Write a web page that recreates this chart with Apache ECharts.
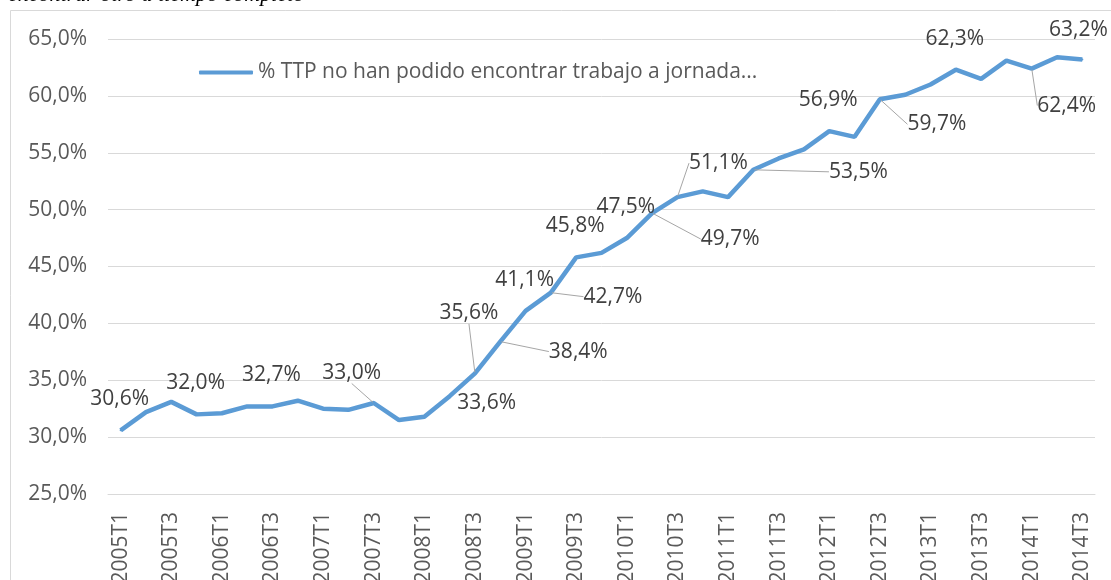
<!DOCTYPE html>
<html>
<head>
<meta charset="utf-8">
<script src="https://cdn.jsdelivr.net/npm/echarts@6/dist/echarts.min.js"></script>
<style>
  html, body { margin: 0; padding: 0; background: #fff; }
  #chart { width: 1111px; height: 580px; }
</style>
</head>
<body>
<div id="chart"></div>
<script>
// quarters 2005T1 .. 2014T3
const quarters = [
    '2005T1', '2005T2', '2005T3', '2005T4',
    '2006T1', '2006T2', '2006T3', '2006T4',
    '2007T1', '2007T2', '2007T3', '2007T4',
    '2008T1', '2008T2', '2008T3', '2008T4',
    '2009T1', '2009T2', '2009T3', '2009T4',
    '2010T1', '2010T2', '2010T3', '2010T4',
    '2011T1', '2011T2', '2011T3', '2011T4',
    '2012T1', '2012T2', '2012T3', '2012T4',
    '2013T1', '2013T2', '2013T3', '2013T4',
    '2014T1', '2014T2', '2014T3'
];

// % TTP no han podido encontrar trabajo a jornada completa
const ttpValues = [
    30.6, 32.2, 33.1, 32.0,
    32.1, 32.7, 32.7, 33.2,
    32.5, 32.4, 33.0, 31.5,
    31.8, 33.6, 35.6, 38.4,
    41.1, 42.7, 45.8, 46.2,
    47.5, 49.7, 51.1, 51.6,
    51.1, 53.5, 54.5, 55.3,
    56.9, 56.4, 59.7, 60.1,
    61.0, 62.3, 61.5, 63.1,
    62.4, 63.4, 63.2
];

// points that carry a value label
const labelledIdx = [0, 3, 6, 10, 13, 14, 15, 16, 17, 18, 20, 21, 22, 25, 28, 30, 33, 36, 38];

const yTicks = [25, 30, 35, 40, 45, 50, 55, 60, 65];

// label placement (offset from point) and whether a leader line is drawn
const labelShift = {
    10: [-22, -30, true],
    13: [37, 7, false],
    14: [-6, -60, true],
    15: [78, 10, true],
    17: [62, 4, true],
    21: [78, 26, true],
    22: [41, -34, true],
    25: [105, 2, true],
    30: [57, 25, true],
    36: [35, 37, true],
    38: [-4, -29, false]
};

const fmt = v => v.toFixed(1).replace('.', ',') + '%';
const txtFont = '"Open Sans", "Noto Sans", sans-serif';

let chartElem = document.getElementById('chart');
let chart = echarts.init(chartElem);

let seriesData = ttpValues.map((v, i) => {
    if (labelledIdx.indexOf(i) < 0) return v;
    let s = labelShift[i];
    return {
        value: v,
        label: { show: true },
        labelLine: { show: !!(s && s[2]) }
    };
});

chart.setOption({
    animation: false,
    backgroundColor: '#fff',
    graphic: [{
        type: 'rect',
        shape: { x: 10.5, y: 10.5, width: 1120, height: 600 },
        style: { fill: 'none', stroke: '#d9d9d9', lineWidth: 1 },
        silent: true
    }, {
        type: 'text',
        left: 8,
        top: -16,
        style: {
            text: 'encontrar otro a tiempo completo',
            font: 'italic 22px "Liberation Serif", serif',
            fill: '#000'
        },
        silent: true
    }],
    legend: {
        left: 194,
        top: 57,
        itemWidth: 54,
        itemHeight: 4,
        itemGap: 4,
        icon: 'roundRect',
        textStyle: { fontSize: 21, color: '#595959', fontFamily: txtFont },
        data: ['% TTP no han podido encontrar trabajo a jornada...']
    },
    grid: {
        left: 108,
        right: 16,
        top: 39,
        bottom: 86,
        containLabel: false,
        outerBoundsMode: 'none'
    },
    xAxis: {
        type: 'category',
        data: quarters,
        boundaryGap: true,
        axisLine: { show: true, lineStyle: { color: '#d9d9d9' } },
        axisTick: { show: false },
        axisLabel: {
            interval: 1,
            rotate: 90,
            margin: 18,
            fontSize: 21,
            color: '#595959',
            fontFamily: txtFont
        }
    },
    yAxis: {
        type: 'value',
        min: yTicks[0],
        max: yTicks[yTicks.length - 1],
        interval: 5,
        axisLine: { show: false },
        axisTick: { show: false },
        splitLine: { lineStyle: { color: '#d9d9d9', width: 1 } },
        axisLabel: {
            margin: 21,
            fontSize: 21,
            color: '#595959',
            fontFamily: txtFont,
            formatter: v => fmt(v)
        }
    },
    series: [{
        name: '% TTP no han podido encontrar trabajo a jornada...',
        type: 'line',
        data: seriesData,
        symbol: 'circle',
        symbolSize: 2,
        lineStyle: { color: '#5b9bd5', width: 4.5 },
        itemStyle: { color: '#5b9bd5' },
        emphasis: { disabled: true },
        label: {
            show: false,
            position: 'inside',
            fontSize: 21,
            color: '#404040',
            fontFamily: txtFont,
            formatter: p => fmt(p.value)
        },
        labelLine: {
            show: false,
            lineStyle: { color: '#a6a6a6', width: 1 }
        },
        labelLayout: function(params) {
            let s = labelShift[params.dataIndex] || [-1, -31];
            return { dx: s[0], dy: s[1] };
        }
    }]
});

window.addEventListener('resize', function() {
    setTimeout(() => {
        chart.resize();
    }, 500);
});
</script>
</body>
</html>
